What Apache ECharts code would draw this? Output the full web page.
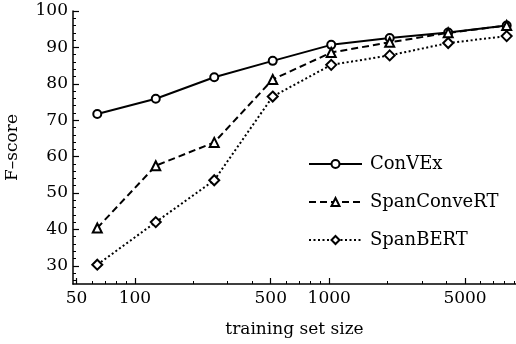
<!DOCTYPE html>
<html lang="en">
<head>
    <meta charset="UTF-8">
    <title>F-score vs training set size</title>
    <style>
        html, body { margin: 0; padding: 0; background: #fff; }
    </style>
</head>
<body>
    <div id="main" style="width: 516px; height: 344px"></div>
    <script src="https://cdn.jsdelivr.net/npm/echarts@6/dist/echarts.min.js"></script>
    <script type="text/javascript">
        var sizes = [64, 128, 256, 512, 1024, 2048, 4096, 8192];
        var convex = [71.7, 75.9, 81.8, 86.3, 90.7, 92.6, 94.1, 96.0];
        var spanConvert = [40.4, 57.5, 63.9, 81.2, 88.6, 91.4, 94.0, 96.0];
        var spanBert = [30.3, 42.0, 53.5, 76.5, 85.2, 87.8, 91.2, 93.1];

        var xLabels = [50, 100, 500, 1000, 5000];
        var xMinor = [60, 70, 80, 90, 200, 300, 400, 600, 700, 800, 900, 2000, 3000, 4000, 6000, 7000, 8000, 9000];
        var yLabels = [30, 40, 50, 60, 70, 80, 90, 100];
        var yMinor = [26, 28, 32, 34, 36, 38, 42, 44, 46, 48, 52, 54, 56, 58, 62, 64, 66, 68,
            72, 74, 76, 78, 82, 84, 86, 88, 92, 94, 96, 98];

        var font = 'DejaVu Serif';
        var myChart = echarts.init(document.getElementById('main'));

        function pairs(vals) {
            return sizes.map(function (s, i) { return [s, vals[i]]; });
        }
        function plain(v) { return String(Math.round(v)); }

        var axisLine = { show: true, onZero: false, lineStyle: { color: '#000', width: 1.5 } };
        // invisible line for the axes that only carry the minor ticks
        var hiddenLine = { show: true, onZero: false, lineStyle: { color: '#000', opacity: 0 } };

        option = {
            animation: false,
            textStyle: { fontFamily: font },
            grid: { left: 73, right: 0, top: 11, bottom: 60, outerBoundsMode: 'none' },
            legend: {
                orient: 'vertical',
                left: 303,
                top: 150,
                itemWidth: 53,
                itemHeight: 10,
                itemGap: 20,
                textStyle: { fontFamily: font, fontSize: 18, color: '#000', padding: [0, 0, 0, 3] },
                data: ['ConVEx', 'SpanConveRT', 'SpanBERT']
            },
            xAxis: [{
                type: 'log',
                min: 48,
                max: 9150,
                name: 'training set size',
                nameLocation: 'middle',
                nameGap: 37,
                nameTextStyle: { fontFamily: font, fontSize: 17, color: '#000' },
                axisLine: axisLine,
                axisTick: { show: true, inside: true, length: 6, customValues: xLabels, lineStyle: { color: '#000', width: 1.2 } },
                axisLabel: { customValues: xLabels, formatter: plain, fontFamily: font, fontSize: 17, color: '#000', margin: 6 },
                splitLine: { show: false }
            }, {
                type: 'log',
                min: 48,
                max: 9150,
                position: 'bottom',
                axisLine: hiddenLine,
                axisTick: { show: true, inside: true, length: 3, customValues: xMinor, lineStyle: { color: '#000', width: 1 } },
                axisLabel: { show: false, customValues: xMinor },
                splitLine: { show: false }
            }],
            yAxis: [{
                type: 'value',
                min: 25,
                max: 100,
                name: 'F\u2013score',
                nameLocation: 'middle',
                nameGap: 52,
                nameTextStyle: { fontFamily: font, fontSize: 17, color: '#000' },
                axisLine: axisLine,
                axisTick: { show: true, inside: true, length: 6, customValues: yLabels, lineStyle: { color: '#000', width: 1.2 } },
                axisLabel: { customValues: yLabels, fontFamily: font, fontSize: 17, color: '#000', margin: 5 },
                splitLine: { show: false }
            }, {
                type: 'value',
                min: 25,
                max: 100,
                position: 'left',
                axisLine: hiddenLine,
                axisTick: { show: true, inside: true, length: 3, customValues: yMinor, lineStyle: { color: '#000', width: 1 } },
                axisLabel: { show: false, customValues: yMinor },
                splitLine: { show: false }
            }],
            series: [{
                name: 'ConVEx',
                type: 'line',
                data: pairs(convex),
                symbol: 'circle',
                symbolSize: 8,
                lineStyle: { color: '#000', width: 2 },
                itemStyle: { color: '#fff', borderColor: '#000', borderWidth: 2 }
            }, {
                name: 'SpanConveRT',
                type: 'line',
                data: pairs(spanConvert),
                symbol: 'triangle',
                symbolSize: 9,
                lineStyle: { color: '#000', width: 2, type: [7, 4] },
                itemStyle: { color: '#fff', borderColor: '#000', borderWidth: 2 }
            }, {
                name: 'SpanBERT',
                type: 'line',
                data: pairs(spanBert),
                symbol: 'diamond',
                symbolSize: 10,
                lineStyle: { color: '#000', width: 2, type: [2, 2.5] },
                itemStyle: { color: '#fff', borderColor: '#000', borderWidth: 2 }
            }]
        };
        myChart.setOption(option);
    </script>
</body>
</html>
